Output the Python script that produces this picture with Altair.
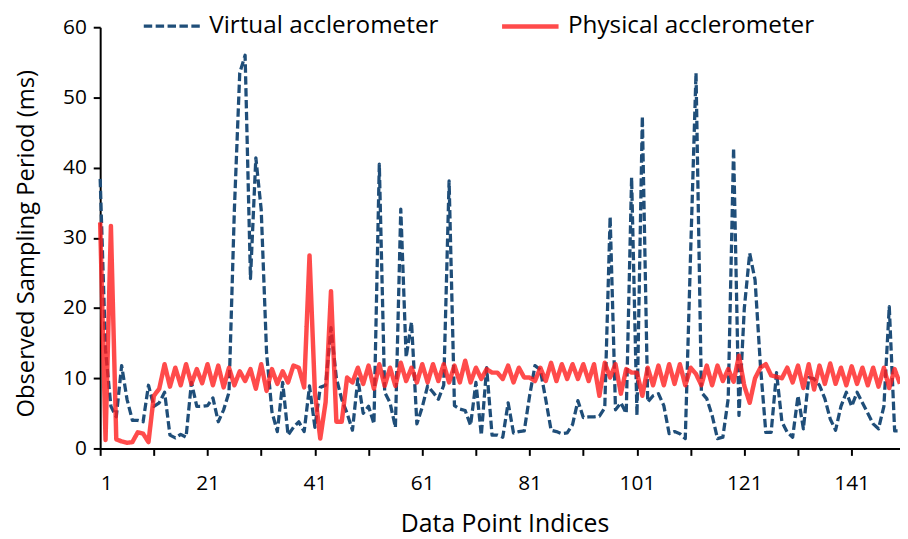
import altair as alt
import pandas as pd

# ---- data ----
series_names = ["Virtual acclerometer", "Physical acclerometer"]

indices = list(range(1, 151))

virtual = [
    38.4, 14.0, 6.0, 4.5, 11.8, 7.0, 4.0, 4.0, 3.8, 9.0,
    6.0, 6.5, 8.0, 1.9, 1.5, 2.0, 1.6, 9.4, 6.0, 6.0,
    6.1, 7.2, 3.8, 5.5, 8.0, 34.0, 53.5, 56.0, 24.2, 41.4,
    34.0, 13.6, 5.2, 2.4, 9.4, 1.9, 3.0, 3.8, 2.4, 8.9,
    3.0, 8.7, 9.0, 17.2, 10.0, 7.0, 5.0, 2.6, 9.9, 5.0,
    6.0, 3.5, 40.5, 8.0, 6.5, 3.0, 34.1, 13.0, 18.0, 3.5,
    5.9, 8.9, 8.0, 7.0, 9.0, 38.1, 6.1, 5.6, 5.4, 3.3,
    9.4, 1.9, 11.5, 1.9, 1.9, 1.6, 6.5, 2.2, 2.4, 2.5,
    7.5, 11.8, 11.2, 7.0, 2.6, 2.4, 2.1, 2.2, 3.4, 6.8,
    4.4, 4.5, 4.5, 4.6, 5.8, 33.0, 5.5, 6.5, 5.0, 38.6,
    4.7, 47.3, 6.6, 7.5, 7.8, 6.1, 2.1, 2.4, 2.1, 1.4,
    28.0, 53.5, 8.0, 7.1, 4.7, 1.4, 1.6, 7.1, 42.8, 4.7,
    20.0, 27.8, 24.0, 11.8, 2.3, 2.3, 10.8, 3.8, 2.3, 1.6,
    7.5, 2.8, 10.1, 9.9, 9.0, 7.1, 4.2, 2.6, 6.0, 8.0,
    6.0, 8.0, 6.5, 5.0, 3.5, 2.8, 6.0, 20.2, 2.5, 2.5,
]

physical = [
    32.2, 1.2, 31.7, 1.3, 1.0, 0.8, 0.9, 2.3, 2.1, 0.9,
    7.5, 8.5, 12.0, 8.8, 11.5, 9.0, 12.0, 9.2, 11.3, 9.3,
    12.0, 9.0, 11.8, 8.7, 11.5, 9.0, 11.0, 9.6, 11.3, 8.5,
    12.0, 8.2, 11.3, 9.2, 11.0, 9.4, 11.8, 11.5, 8.7, 27.5,
    8.0, 1.4, 6.6, 22.4, 3.8, 3.8, 10.1, 9.4, 11.5, 9.2,
    11.8, 8.5, 12.0, 8.9, 11.5, 8.9, 12.2, 9.6, 11.5, 9.4,
    12.0, 9.4, 12.0, 9.6, 12.0, 9.4, 11.8, 9.4, 12.5, 9.4,
    11.5, 9.9, 11.3, 10.8, 10.8, 9.9, 11.8, 9.4, 11.5, 10.1,
    10.1, 9.6, 11.5, 9.6, 12.2, 9.6, 12.0, 9.9, 12.0, 9.9,
    12.0, 9.6, 12.0, 7.5, 12.2, 10.1, 12.0, 7.8, 11.3, 10.8,
    10.8, 7.5, 11.5, 9.0, 11.8, 9.0, 12.0, 9.2, 12.0, 9.0,
    11.5, 10.6, 9.0, 11.8, 9.0, 11.8, 9.6, 11.3, 9.5, 13.2,
    8.9, 6.5, 10.0, 11.5, 12.0, 10.4, 10.2, 10.0, 11.5, 9.4,
    11.8, 8.6, 12.0, 8.4, 11.8, 9.2, 12.1, 9.2, 11.5, 9.0,
    11.7, 9.2, 11.5, 9.0, 11.5, 8.8, 11.5, 8.6, 11.3, 9.2,
]

x_tick_values = list(range(1, 150, 10))
y_tick_values = [0, 10, 20, 30, 40, 50, 60]

df = pd.DataFrame({
    "index": indices + indices,
    "value": virtual + physical,
    "series": [series_names[0]] * len(virtual) + [series_names[1]] * len(physical),
})

FONT = "Open Sans"

legend_def = alt.Legend(
    title=None,
    orient="none",
    legendX=42,
    legendY=-32,
    direction="horizontal",
    labelFont=FONT,
    labelFontSize=24.5,
    labelColor="#000000",
    labelLimit=0,
    labelOffset=7,
    columnPadding=54,
    padding=0,
    symbolType="stroke",
    symbolSize=3249,
    symbolStrokeWidth=4,
    symbolOpacity=1,
)

chart = (
    alt.Chart(df)
    .mark_line(strokeJoin="round")
    .encode(
        x=alt.X(
            "index:Q",
            scale=alt.Scale(domain=[1, 150], nice=False, zero=False),
            axis=alt.Axis(
                values=x_tick_values,
                labelExpr="(datum.value - 1) % 20 == 0 ? datum.label : ''",
                title="Data Point Indices",
                grid=False,
                labelPadding=17,
                titleX=408,
                titleY=76,
                titleBaseline="middle",
                titleAlign="center",
            ),
        ),
        y=alt.Y(
            "value:Q",
            scale=alt.Scale(domain=[0, 60], nice=False),
            axis=alt.Axis(
                values=y_tick_values,
                title="Observed Sampling Period (ms)",
                grid=False,
                labelPadding=7,
                titleX=-74,
                titleY=218,
                titleAngle=-90,
                titleBaseline="middle",
                titleAlign="center",
                titleFontSize=24,
            ),
        ),
        color=alt.Color(
            "series:N",
            scale=alt.Scale(domain=series_names, range=["#1F4E79", "rgba(255,30,30,0.8)"]),
            legend=legend_def,
        ),
        strokeDash=alt.StrokeDash(
            "series:N",
            scale=alt.Scale(domain=series_names, range=[[8.5, 3.5], [1, 0]]),
            legend=legend_def,
        ),
        strokeWidth=alt.StrokeWidth(
            "series:N",
            scale=alt.Scale(domain=series_names, range=[3.3, 4.5]),
            legend=None,
        ),
    )
    .properties(
        width=807,
        height=425,
        autosize=alt.AutoSizeParams(type="none"),
        padding={"left": 93, "top": 17, "right": 0, "bottom": 90},
    )
    .configure_view(stroke=None)
    .configure_axis(
        domainColor="#000000",
        domainWidth=2,
        tickColor="#000000",
        tickWidth=2,
        tickSize=7,
        labelFont=FONT,
        labelFontSize=21,
        labelColor="#000000",
        titleFont=FONT,
        titleFontSize=25,
        titleFontWeight="normal",
        titleColor="#000000",
    )
)

chart.save("out.html", embed_options={"renderer": "svg", "actions": False})
